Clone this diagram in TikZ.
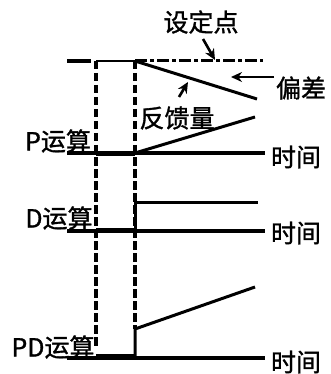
\documentclass[tikz,border=0pt]{standalone}
\usepackage{fontspec}
\newfontfamily\cjk[FakeBold=1.2]{Noto Sans CJK SC}
\usetikzlibrary{arrows.meta}
\begin{document}
\begin{tikzpicture}[x=1pt, y=-1pt,
    etichetta/.style={font=\cjk\fontsize{25}{25}\selectfont, inner sep=0pt},
    asse/.style={line width=4pt},
    curva/.style={line width=3pt},
    sottile/.style={line width=2pt},
    guida/.style={line width=3.2pt, dash pattern=on 8.5pt off 3.5pt},
    riferimento/.style={line width=3pt, dash pattern=on 12pt off 3pt on 4pt off 3pt},
    freccia/.style={line width=2.6pt, -{Stealth[length=11pt,width=10pt]}}]
    \useasboundingbox (0,0) rectangle (330,374);
    % Punti di riferimento
    \coordinate (sA) at (67,61);  \coordinate (sB) at (91,61);
    \coordinate (sC) at (96,61);  \coordinate (sD) at (135,61);
    \coordinate (sE) at (263,61);
    \coordinate (pA) at (67,153); \coordinate (pB) at (96,153);
    \coordinate (pC) at (135,153); \coordinate (pE) at (265,153);
    \coordinate (dA) at (67,231); \coordinate (dE) at (265,231);
    \coordinate (qA) at (67,358); \coordinate (qE) at (265,358);
    % Linea del set point
    \draw[asse] (sA) -- (sB);
    \draw[sottile] (sC) -- (sD);
    \draw[riferimento] (sD) -- (sE);
    \draw[curva] (sD) -- (257,99) coordinate (dev);
    % Linee tratteggiate
    \draw[guida] (sC) -- (96,347) coordinate (gA);
    \draw[guida] (sD) -- (135,329) coordinate (gB);
    % Operazione P
    \draw[asse] (pA) -- (pE);
    \draw[line width=5pt] (pB) -- (pC);
    \draw[curva] (pC) -- (255,117) coordinate (fb);
    % Operazione D
    \draw[asse] (dA) -- (dE);
    \draw[sottile] (96,229) -- (135,229);
    \draw[curva] (135,231) -- (135,202) -- (258,202);
    % Operazione PD
    \draw[asse] (qA) -- (qE);
    \draw[curva] (96,355) -- (135,355);
    \draw[curva] (135,358) -- (gB) -- (255,287);
    % Etichette
    \node[etichetta] (sp) at (201,22) {设定点};
    \node[etichetta] (pc) at (301,88) {偏差};
    \node[etichetta] (fl) at (177,118) {反馈量};
    \node[etichetta] (lp) at (58,141) {P运算};
    \node[etichetta] (ld) at (59,218) {D运算};
    \node[etichetta] (lq) at (53,347) {PD运算};
    \node[etichetta] (t1) at (296,157) {时间};
    \node[etichetta] (t2) at (296,233) {时间};
    \node[etichetta] (t3) at (296,362) {时间};
    % Frecce
    \coordinate (aS) at (215,60);
    \coordinate (aP) at (231,77);
    \coordinate (aF) at (188,82);
    \draw[freccia] (203,39) -- (aS);
    \draw[freccia] (274,77) -- (aP);
    \draw[freccia] (179,97) -- (aF);
\end{tikzpicture}
\end{document}
